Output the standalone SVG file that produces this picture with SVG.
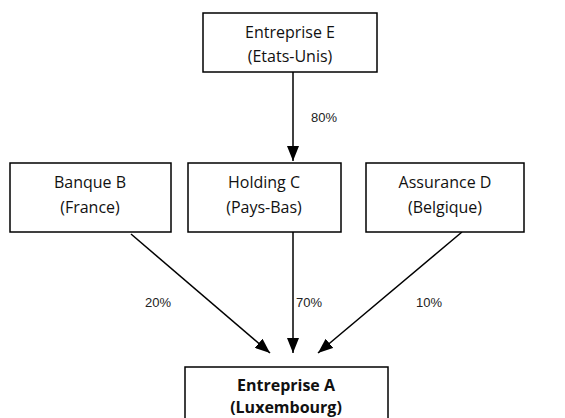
<svg xmlns="http://www.w3.org/2000/svg" width="565" height="418" viewBox="0 0 565 418">
<style>
.box{fill:#fff;stroke:#000;stroke-width:1.5}
.t{font-family:"Open Sans","Noto Sans",sans-serif;font-size:16px;text-anchor:middle;fill:#111}
.tb{font-weight:bold}
.lbl{font-family:"Liberation Sans",Arial,sans-serif;font-size:13px;fill:#222}
.c{stroke:#000;stroke-width:1.5;fill:none;marker-end:url(#ah)}
</style>
<defs>
<marker id="ah" viewBox="0 0 15 12" refX="15" refY="6" markerWidth="15" markerHeight="12" markerUnits="userSpaceOnUse" orient="auto">
<path d="M0,0 L15,6 L0,12 Z" fill="#000"/>
</marker>
</defs>
<rect width="565" height="418" fill="#fff"/>
<g id="connectors">
<line class="c" x1="293" y1="72" x2="293" y2="161"/>
<line class="c" x1="131" y1="234" x2="270" y2="353"/>
<line class="c" x1="293" y1="232" x2="293" y2="353"/>
<line class="c" x1="462" y1="232" x2="318" y2="353"/>
<text class="lbl" x="311" y="122">80%</text>
<text class="lbl" x="145" y="307">20%</text>
<text class="lbl" x="296" y="307">70%</text>
<text class="lbl" x="416" y="307">10%</text>
</g>
<g id="nodeE">
<rect class="box" x="203" y="13" width="174" height="59"/>
<text class="t" x="290" y="38">Entreprise E</text>
<text class="t" x="290" y="62">(Etats-Unis)</text>
</g>
<g id="nodeB">
<rect class="box" x="10" y="163" width="161" height="69"/>
<text class="t" x="90" y="188">Banque B</text>
<text class="t" x="90" y="213">(France)</text>
</g>
<g id="nodeC">
<rect class="box" x="188" y="163" width="153" height="69"/>
<text class="t" x="264" y="188">Holding C</text>
<text class="t" x="264" y="213">(Pays-Bas)</text>
</g>
<g id="nodeD">
<rect class="box" x="366" y="163" width="158" height="69"/>
<text class="t" x="445" y="188">Assurance D</text>
<text class="t" x="445" y="213">(Belgique)</text>
</g>
<g id="nodeA">
<rect class="box" x="185" y="367" width="203" height="70"/>
<text class="t tb" x="286" y="391">Entreprise A</text>
<text class="t tb" x="286" y="413">(Luxembourg)</text>
</g>
</svg>
